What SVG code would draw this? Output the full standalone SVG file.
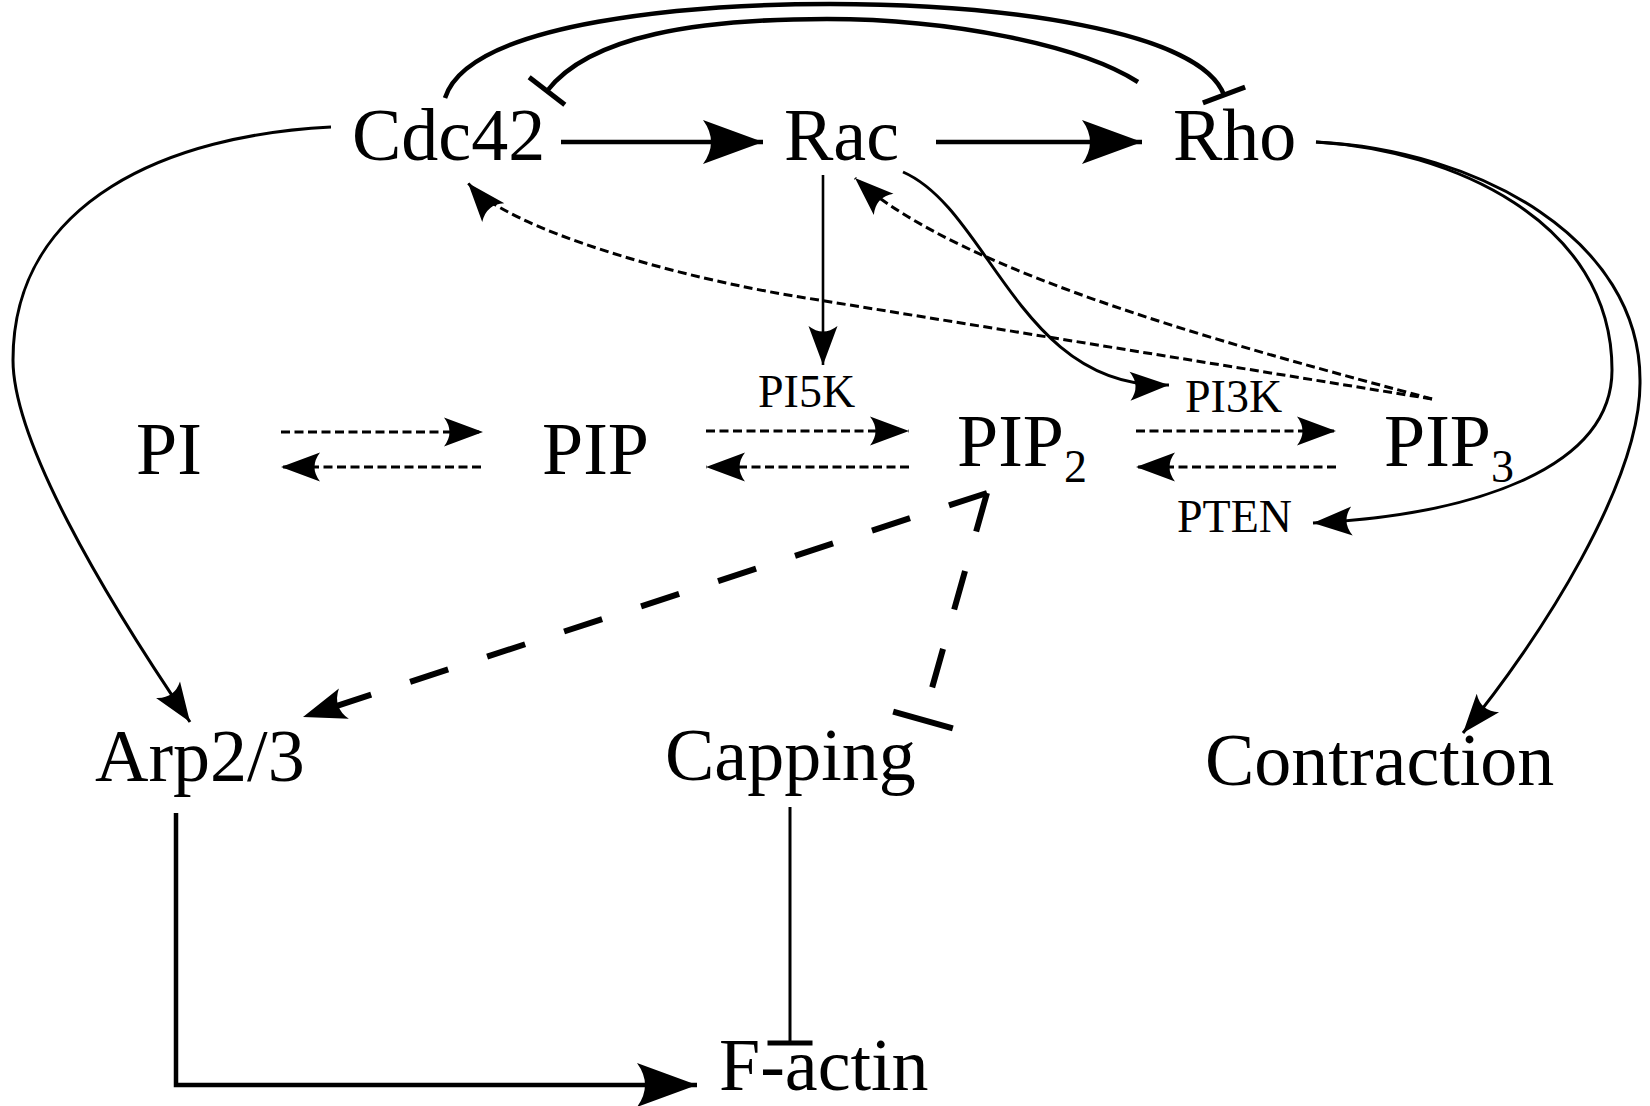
<svg xmlns="http://www.w3.org/2000/svg" width="1650" height="1106" viewBox="0 0 1650 1106">
<style>
.t{font-family:'Liberation Serif','Times New Roman',serif;font-size:74px;fill:#000}
.s{font-size:46px}
.c{fill:none;stroke:#000}
.w4{stroke-width:4.5}
.w3{stroke-width:3}
.w2{stroke-width:2.6}
.d{stroke-dasharray:9 4.5;stroke-width:3}
.D{stroke-dasharray:40 41;stroke-width:6}
</style>
<defs>
<marker id="big" markerUnits="userSpaceOnUse" orient="auto" refX="0" refY="0" overflow="visible"><path d="M0,0 L-60,-22 Q-44,0 -60,22 Z" fill="#000"/></marker>
<marker id="med" markerUnits="userSpaceOnUse" orient="auto" refX="0" refY="0" overflow="visible"><path d="M0,0 L-43,-16 Q-31,0 -43,16 Z" fill="#000"/></marker>
<marker id="sm" markerUnits="userSpaceOnUse" orient="auto" refX="0" refY="0" overflow="visible"><path d="M0,0 L-39,-14.5 Q-28,0 -39,14.5 Z" fill="#000"/></marker>
<marker id="tee" markerUnits="userSpaceOnUse" orient="auto" refX="0" refY="0" overflow="visible"><path d="M0,-22.5 L0,22.5" stroke="#000" stroke-width="5" fill="none"/></marker>
<marker id="teeL" markerUnits="userSpaceOnUse" orient="auto" refX="0" refY="0" overflow="visible"><path d="M0,-31 L0,31" stroke="#000" stroke-width="6" fill="none"/></marker>
</defs>
<rect width="1650" height="1106" fill="#fff"/>
<g id="connectors">
<path class="c w4" d="M561,142 L763,142" marker-end="url(#big)"/>
<path class="c w4" d="M936,142 L1142,142" marker-end="url(#big)"/>
<path class="c w4" d="M445,98 C470,20 700,4 830,4 C1000,4 1200,30 1224,95" marker-end="url(#tee)"/>
<path class="c w4" d="M1138,82 C1080,45 950,19 827,19 C700,19 590,35 547,91" marker-end="url(#tee)"/>
<path class="c w3" d="M331,127 C170,135 13,200 13,360 C13,440 100,590 190,722" marker-end="url(#sm)"/>
<path class="c w2" d="M823,175 L823,365" marker-end="url(#sm)"/>
<path class="c w3" d="M903,172 C990,210 1020,390 1169,385" marker-end="url(#sm)"/>
<path class="c d" d="M1432,399 C1250,350 960,275 855,178" marker-end="url(#sm)"/>
<path class="c d" d="M1432,399 L800,297 C680,278 508,230 468,183" marker-end="url(#sm)"/>
<path class="c w3" d="M1316,142 C1450,150 1612,220 1612,370 C1612,470 1470,515 1313,523" marker-end="url(#sm)"/>
<path class="c w3" d="M1316,142 C1480,150 1640,240 1640,380 C1642,480 1540,640 1463,733" marker-end="url(#sm)"/>
<path class="c d" d="M281,432 L483,432" marker-end="url(#sm)"/>
<path class="c d" d="M481,467 L281,467" marker-end="url(#sm)"/>
<path class="c d" d="M706,431 L909,431" marker-end="url(#sm)"/>
<path class="c d" d="M909,467 L706,467" marker-end="url(#sm)"/>
<path class="c d" d="M1136,431 L1336,431" marker-end="url(#sm)"/>
<path class="c d" d="M1336,467 L1136,467" marker-end="url(#sm)"/>
<path class="c D" d="M987,493 L303,717" marker-end="url(#med)"/>
<path class="c D" d="M987,493 L923,720" marker-end="url(#teeL)"/>
<path class="c w4" d="M176,813 L176,1085 L697,1085" marker-end="url(#big)"/>
<path class="c w3" d="M790,807 L790,1043" marker-end="url(#tee)"/>
<text class="t s" x="758" y="407">PI5K</text>
<text class="t s" x="1185" y="412">PI3K</text>
<text class="t s" x="1177" y="532">PTEN</text>
</g>
<g id="cdc42"><text class="t" x="352" y="160">Cdc42</text></g>
<g id="rac"><text class="t" x="784" y="160">Rac</text></g>
<g id="rho"><text class="t" x="1173" y="160">Rho</text></g>
<g id="pi"><text class="t" x="136" y="474">PI</text></g>
<g id="pip"><text class="t" x="542" y="474">PIP</text></g>
<g id="pip2"><text class="t" x="957" y="466">PIP<tspan class="s" dy="16">2</tspan></text></g>
<g id="pip3"><text class="t" x="1384" y="466">PIP<tspan class="s" dy="16">3</tspan></text></g>
<g id="arp23"><text class="t" x="95" y="781">Arp2/3</text></g>
<g id="capping"><text class="t" x="665" y="780">Capping</text></g>
<g id="contraction"><text class="t" x="1205" y="785">Contraction</text></g>
<g id="factin"><text class="t" x="719" y="1090">F-actin</text></g>
</svg>
